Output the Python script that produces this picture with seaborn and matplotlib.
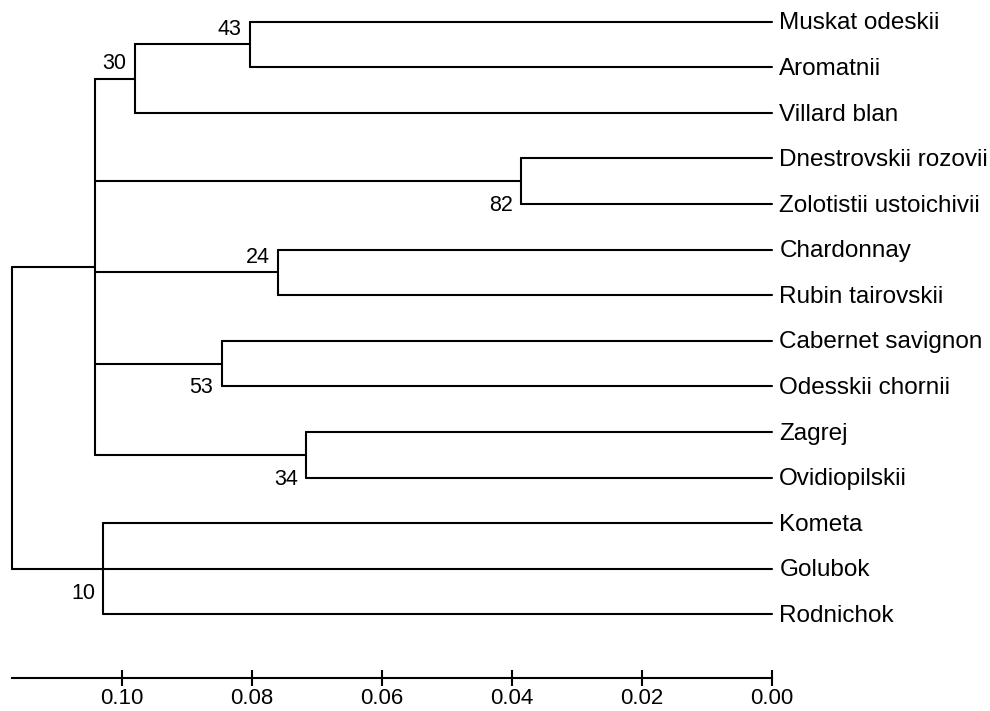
import pandas as pd
import seaborn as sns
import matplotlib.pyplot as plt

# tree data
leaves = ["Muskat odeskii", "Aromatnii", "Villard blan", "Dnestrovskii rozovii",
          "Zolotistii ustoichivii", "Chardonnay", "Rubin tairovskii",
          "Cabernet savignon", "Odesskii chornii", "Zagrej", "Ovidiopilskii",
          "Kometa", "Golubok", "Rodnichok"]

node_names = ["n43", "n30", "n82", "n24", "n53", "n34", "core", "n10", "root"]
node_children = [
    ["Muskat odeskii", "Aromatnii"],
    ["n43", "Villard blan"],
    ["Dnestrovskii rozovii", "Zolotistii ustoichivii"],
    ["Chardonnay", "Rubin tairovskii"],
    ["Cabernet savignon", "Odesskii chornii"],
    ["Zagrej", "Ovidiopilskii"],
    ["n30", "n82", "n24", "n53", "n34"],
    ["Kometa", "Golubok", "Rodnichok"],
    ["core", "n10"],
]
node_heights = [0.0803, 0.0980, 0.0385, 0.0759, 0.0846, 0.0716, 0.1041, 0.1028, 0.1168]
node_support = [43, 30, 82, 24, 53, 34, None, 10, None]
support_side = ["above", "above", "below", "above", "below", "below", None, "below", None]

scale_ticks = [0.10, 0.08, 0.06, 0.04, 0.02, 0.00]

# positions of leaves and nodes
ypos = {name: i for i, name in enumerate(leaves)}
xpos = {name: 0.0 for name in leaves}
for name, kids, h in zip(node_names, node_children, node_heights):
    ypos[name] = (ypos[kids[0]] + ypos[kids[-1]]) / 2
    xpos[name] = h

# build segments
rows = []
seg = 0
for name, kids in zip(node_names, node_children):
    h = xpos[name]
    rows += [(seg, h, ypos[kids[0]]), (seg, h, ypos[kids[-1]])]
    seg += 1
    for k in kids:
        rows += [(seg, h, ypos[k]), (seg, xpos[k], ypos[k])]
        seg += 1
segs = pd.DataFrame(rows, columns=["seg", "x", "y"])

sns.set_theme(style="white")
plt.rcParams['font.family'] = ['Liberation Sans', 'DejaVu Sans']

fig = plt.figure(figsize=(9.9, 7.11), dpi=100)
ax = fig.add_axes([0.01242, 0.13601, 0.7671, 0.83347])
sns.lineplot(data=segs, x="x", y="y", units="seg", estimator=None, sort=False,
             color="black", linewidth=1.5, legend=False, ax=ax, clip_on=False)
ax.set_xlim(node_heights[-1], 0)
ax.set_ylim(len(leaves) - 1, 0)
ax.axis("off")

for name in leaves:
    ax.annotate(name, xy=(0, ypos[name]), xytext=(5.5, -5.5), textcoords="offset points",
                ha="left", va="baseline", fontsize=17.5, color="black")

for name, sup, side in zip(node_names, node_support, support_side):
    if sup is None:
        continue
    dy = 7 if side == "above" else -21.5
    ax.annotate(str(sup), xy=(xpos[name], ypos[name]), xytext=(-6, dy),
                textcoords="offset points", ha="right", va="baseline",
                fontsize=15.5, color="black")

# scale bar
sax = fig.add_axes([0.01242, 0.04684, 0.7671, 0.01])
sax.set_xlim(node_heights[-1], 0)
sax.set_xticks(scale_ticks)
sax.set_xticklabels([f"{t:.2f}" for t in scale_ticks], fontsize=16)
sax.set_yticks([])
sax.patch.set_alpha(0)
for s in ["top", "left", "right"]:
    sax.spines[s].set_visible(False)
sax.spines["bottom"].set_color("black")
sax.spines["bottom"].set_linewidth(1.5)
sax.tick_params(axis="x", direction="inout", length=11.5, width=1.5, color="black",
                pad=1.5, bottom=True, labelcolor="black")

fig.savefig("out.png", dpi=100)
